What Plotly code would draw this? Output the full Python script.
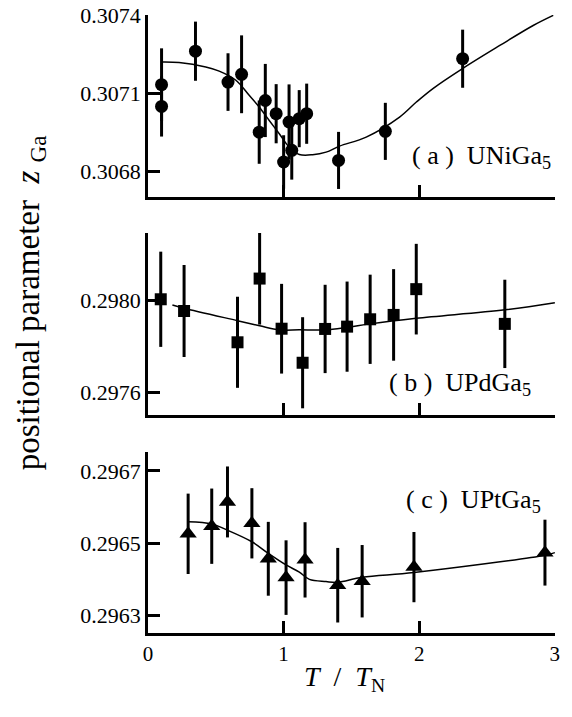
import plotly.graph_objects as go

# ---------------- data ----------------
# (a) UNiGa5
a_T = [0.10, 0.10, 0.35, 0.59, 0.69, 0.82, 0.865, 0.945, 1.00, 1.04, 1.06, 1.115, 1.17, 1.405, 1.75, 2.32]
a_z = [0.307133, 0.307049, 0.307262, 0.307143, 0.307173, 0.306950, 0.307072, 0.307021,
       0.306835, 0.306989, 0.306880, 0.307002, 0.307021, 0.306841, 0.306953, 0.307233]
a_err = [0.00014, 0.000116, 0.000114, 0.000111, 0.00015, 0.000122, 0.000141, 0.000114,
         0.000103, 0.000145, 0.000113, 0.00011, 0.000116, 0.00011, 0.00011, 0.000112]
a_fit_T = [0.101, 0.229, 0.426, 0.525, 0.648, 0.746, 0.820, 0.894, 0.968, 1.042, 1.116, 1.214, 1.313,
           1.412, 1.609, 1.855, 1.979, 2.101, 2.319, 2.594, 2.840, 2.988]
a_fit_z = [0.30722, 0.307218, 0.307201, 0.307185, 0.30715, 0.307092, 0.307047, 0.306995, 0.306944,
           0.306892, 0.306864, 0.306863, 0.306873, 0.306896, 0.306931, 0.307008, 0.307066, 0.307118,
           0.307195, 0.307284, 0.307361, 0.3074]

# (b) UPdGa5
b_T = [0.094, 0.266, 0.66, 0.823, 0.985, 1.14, 1.306, 1.468, 1.638, 1.811, 1.978, 2.631]
b_z = [0.298006, 0.297955, 0.297819, 0.298096, 0.297878, 0.297730, 0.297877, 0.297887,
       0.297919, 0.297938, 0.298050, 0.297899]
b_err = [0.000207, 0.0002, 0.000198, 0.0002, 0.000195, 0.000198, 0.000192, 0.000196,
         0.000194, 0.000199, 0.000197, 0.000192]
b_fit_T = [0.18, 0.266, 0.66, 0.823, 0.968, 1.116, 1.306, 1.468, 1.638, 1.978, 2.631, 3.0]
b_fit_z = [0.297981, 0.297967, 0.297913, 0.297891, 0.297873, 0.297873, 0.297873, 0.297884,
           0.297899, 0.297923, 0.29796, 0.297991]

# (c) UPtGa5
c_T = [0.296, 0.47, 0.586, 0.766, 0.887, 1.018, 1.158, 1.399, 1.579, 1.961, 2.927]
c_z = [0.296526, 0.296547, 0.296614, 0.296555, 0.296457, 0.296405, 0.296454, 0.296384,
       0.296395, 0.296434, 0.296474]
c_err = [0.000111, 0.000104, 0.000098, 0.000097, 0.000102, 0.000103, 0.000104, 0.000103,
         0.0001, 0.000097, 0.000091]
c_fit_T = [0.296, 0.47, 0.586, 0.766, 0.887, 1.018, 1.116, 1.19, 1.313, 1.399, 1.579, 1.961, 2.927, 3.0]
c_fit_z = [0.296559, 0.296553, 0.296536, 0.296504, 0.296472, 0.29644, 0.29642, 0.2964, 0.296394,
           0.296392, 0.296406, 0.296419, 0.296467, 0.296474]

x_ticks = [0, 1, 2, 3]
x_ticktext = ["0", "1", "2", "3"]
a_ticks = [0.3068, 0.3071, 0.3074]
b_ticks = [0.2976, 0.2980]
c_ticks = [0.2963, 0.2965, 0.2967]

labels = ["(\u00a0a\u00a0)\u00a0\u00a0UNiGa<sub>5</sub>",
          "(\u00a0b\u00a0)\u00a0\u00a0UPdGa<sub>5</sub>",
          "(\u00a0c\u00a0)\u00a0\u00a0UPtGa<sub>5</sub>"]

FONT = "Liberation Serif"

fig = go.Figure()

def add_panel(T, z, err, fT, fz, symbol, size, xa, ya):
    fig.add_trace(go.Scatter(x=fT, y=fz, mode="lines", line=dict(color="black", width=1.5, shape="spline"),
                             xaxis=xa, yaxis=ya, showlegend=False, hoverinfo="skip"))
    fig.add_trace(go.Scatter(x=T, y=z, mode="markers",
                             marker=dict(symbol=symbol, size=size, color="black", line=dict(width=0)),
                             error_y=dict(type="data", array=err, visible=True, color="black",
                                          thickness=3, width=0),
                             xaxis=xa, yaxis=ya, showlegend=False))

add_panel(a_T, a_z, a_err, a_fit_T, a_fit_z, "circle", 13, "x", "y")
add_panel(b_T, b_z, b_err, b_fit_T, b_fit_z, "square", 12, "x2", "y2")
add_panel(c_T, c_z, c_err, c_fit_T, c_fit_z, "triangle-up", 15, "x3", "y3")

axis_common = dict(showline=True, linecolor="black", linewidth=2.5, ticks="inside", ticklen=12,
                   tickwidth=2.5, tickcolor="black", showgrid=False, zeroline=False, mirror=False,
                   automargin=False, ticklabeloverflow="allow",
                   tickfont=dict(family=FONT, size=22, color="black"))

def xaxis(anchor, show):
    d = dict(axis_common)
    d.update(range=[0, 3.001], tickvals=x_ticks, ticktext=x_ticktext, showticklabels=show,
             anchor=anchor, domain=[0, 1], tickfont=dict(family=FONT, size=21, color="black"))
    return d

def yaxis(anchor, dom, rng, ticks, fmt):
    d = dict(axis_common)
    d.update(domain=dom, range=rng, tickvals=ticks, ticktext=[fmt.format(t) for t in ticks], anchor=anchor)
    return d

fig.update_layout(
    width=572, height=717,
    margin=dict(l=148, r=17, t=15, b=84, autoexpand=False),
    paper_bgcolor="white", plot_bgcolor="white",
    font=dict(family=FONT, color="black"),
    hovermode=False,
    xaxis=xaxis("y", False),
    xaxis2=xaxis("y2", False),
    xaxis3=xaxis("y3", True),
    yaxis=yaxis("x", [0.7055, 1.0], [0.30670, 0.3074015], a_ticks, "{:.4f}"),
    yaxis2=yaxis("x2", [0.3528, 0.6472], [0.297503, 0.298294], b_ticks, "{:.4f}"),
    yaxis3=yaxis("x3", [0.0, 0.2929], [0.296252, 0.296752], c_ticks, "{:.4f}"),
)

ann = []
for txt, xr, yp in zip(labels, [0.995, 0.946, 0.9705], [0.770, 0.403, 0.2136]):
    ann.append(dict(text=txt, x=xr, y=yp, xref="paper", yref="paper", xanchor="right", yanchor="middle",
                    showarrow=False, font=dict(family=FONT, size=26, color="black")))
ann.append(dict(text="positional parameter\u00a0\u00a0<i>z</i>\u00a0<sub>Ga</sub>", textangle=-90,
                x=-0.29, y=0.535, xref="paper", yref="paper", xanchor="center", yanchor="middle",
                showarrow=False, font=dict(family=FONT, size=33, color="black")))
ann.append(dict(text="<i>T</i>\u00a0\u00a0/\u00a0\u00a0<i>T</i><sub>N</sub>", x=0.484, y=-0.073,
                xref="paper", yref="paper", xanchor="center", yanchor="middle",
                showarrow=False, font=dict(family=FONT, size=28, color="black")))
fig.update_layout(annotations=ann)

fig.write_html("out.html", config={"displayModeBar": False},
               post_script="document.body.style.margin='0';document.body.style.overflow='hidden';")
